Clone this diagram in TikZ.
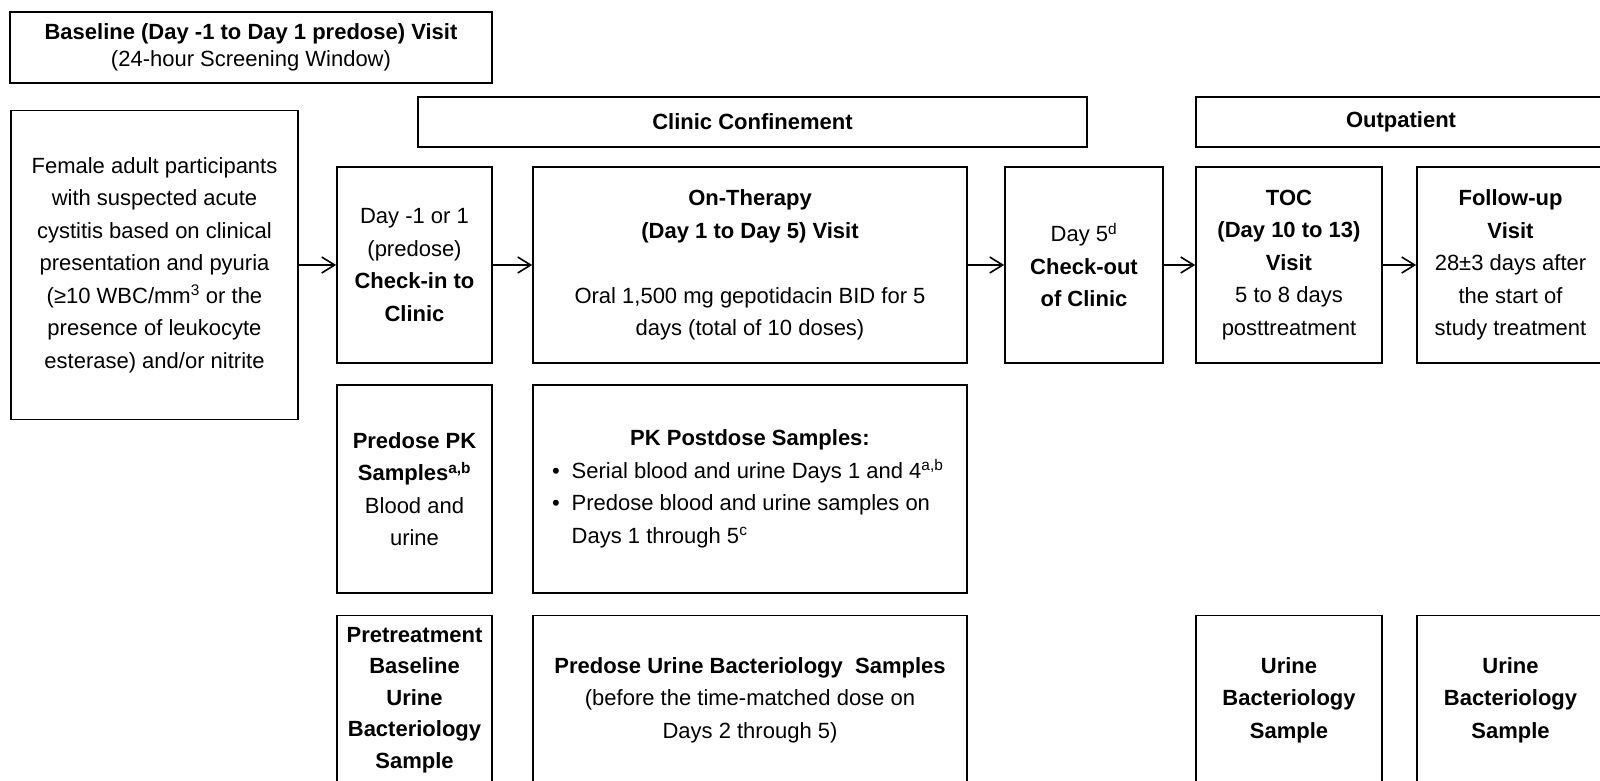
\documentclass[tikz,border=0pt]{standalone}
\usepackage{fontspec}
\setmainfont{Liberation Sans}
\usepackage{tikz}
\usetikzlibrary{positioning,arrows.meta}

\begin{document}
\begin{tikzpicture}[x=1pt, y=-1pt, on grid, line width=1.6pt,
    >={Straight Barb[length=13pt,width=16pt]},
    box/.style={draw, align=center, inner sep=0pt, font=\fontsize{22}{32.5}\selectfont},
    narrow/.style={box, minimum width=155pt, minimum height=196pt},
    wide/.style={box, minimum width=434pt, minimum height=196pt},
    toccol/.style={box, minimum width=186pt, minimum height=196pt},
    fucol/.style={box, minimum width=187pt, minimum height=196pt}]
    \useasboundingbox (0,0) rectangle (1600,780);

    \node[box, minimum width=482pt, minimum height=71pt] (base) at (251,47.5)
        {\textbf{Baseline (Day -1 to Day 1 predose) Visit}\\[-5.5pt](24-hour Screening Window)};
    \node[box, minimum width=287pt, minimum height=309pt] (female) at (154.5,265)
        {Female adult participants\\with suspected acute\\cystitis based on clinical\\presentation and pyuria\\(≥10 WBC/mm\textsuperscript{3} or the\\presence of leukocyte\\esterase) and/or nitrite};

    \node[narrow] (chkin) [right=260pt of female]
        {Day -1 or 1\\(predose)\\\textbf{Check-in to}\\\textbf{Clinic}};
    \node[wide] (onther) [right=335.5pt of chkin]
        {\textbf{On-Therapy}\\\textbf{(Day 1 to Day 5) Visit}\\[32.5pt]Oral 1,500 mg gepotidacin BID for 5\\days (total of 10 doses)};
    \node[narrow, minimum width=158pt] (chkout) [right=334pt of onther]
        {Day 5\textsuperscript{d}\\\textbf{Check-out}\\\textbf{of Clinic}};
    \node[toccol] (toc) [right=205pt of chkout]
        {\textbf{TOC}\\\textbf{(Day 10 to 13)}\\\textbf{Visit}\\5 to 8 days\\posttreatment};
    \node[fucol] (follow) [right=221.5pt of toc]
        {\textbf{Follow-up}\\\textbf{Visit}\\28±3 days after\\the start of\\study treatment};

    \node[box, minimum width=669pt, minimum height=50pt] (clinic) at (752.5,122)
        {\textbf{Clinic Confinement}};
    \node[box, minimum width=410pt, minimum height=50pt] (outpat) at (1401,122)
        {\textbf{Outpatient}};

    \node[narrow, minimum height=208pt] (pkpre) [below=224pt of chkin]
        {\textbf{Predose PK}\\\textbf{Samples}\textsuperscript{\textbf{a,b}}\\Blood and\\urine};
    \node[wide, minimum height=208pt] (pkpost) [below=224pt of onther]
        {\textbf{PK Postdose Samples:}\\
         \makebox[396pt][l]{•\hspace{12pt}Serial blood and urine Days 1 and 4\textsuperscript{a,b}}\\
         \makebox[396pt][l]{•\hspace{12pt}Predose blood and urine samples on}\\
         \makebox[396pt][l]{\phantom{•}\hspace{12pt}Days 1 through 5\textsuperscript{c}}};

    \node[narrow, minimum height=169pt] (bactpre) [below=211pt of pkpre]
        {\textbf{Pretreatment}\\[-1pt]\textbf{Baseline}\\[-1pt]\textbf{Urine}\\[-1pt]\textbf{Bacteriology}\\[-1pt]\textbf{Sample}};
    \node[wide, minimum height=169pt] (bactpost) [below=211pt of pkpost]
        {\textbf{Predose Urine Bacteriology\ \ Samples}\\(before the time-matched dose on\\Days 2 through 5)};
    \node[toccol, minimum height=169pt] (bacttoc) [below=435pt of toc]
        {\textbf{Urine}\\\textbf{Bacteriology}\\\textbf{Sample}};
    \node[fucol, minimum height=169pt] (bactfu) [below=435pt of follow]
        {\textbf{Urine}\\\textbf{Bacteriology}\\\textbf{Sample}};

    \path[->]
        (female) edge (chkin)
        (chkin) edge (onther)
        (onther) edge (chkout)
        (chkout) edge (toc)
        (toc) edge (follow);
\end{tikzpicture}
\end{document}
